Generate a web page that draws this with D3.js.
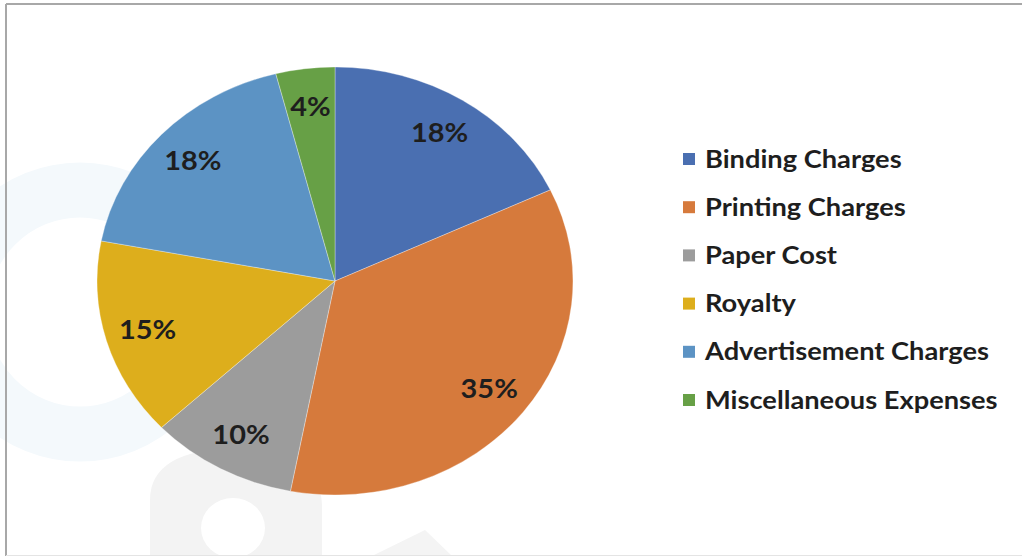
<!DOCTYPE html>
<html lang="en">
<head>
    <meta charset="UTF-8">
    <title>Pie Chart</title>
    <style>
        body{ margin:0; background:#fff; }
        svg{ display:block; }
        text{ font-family: Lato, "Open Sans", sans-serif; font-weight:bold; fill:#1e1e1e; }
    </style>
</head>
<body>
    <svg width="1022" height="556"></svg>
    <script src="https://d3js.org/d3.v7.min.js"></script>
    <script>
        var categories = ["Binding Charges", "Printing Charges", "Paper Cost", "Royalty", "Advertisement Charges", "Miscellaneous Expenses"];
        var values = [18, 35, 10, 15, 18, 4];
        var colors = ["#4a6fb1", "#d67a3c", "#9c9c9c", "#ddae1c", "#5c93c4", "#67a046"];

        var svg = d3.select("svg"),
            cx = 335, cy = 281,
            ry = 214, rx = 238,
            sx = rx / ry;   // the whole picture is stretched horizontally

        // faint watermark behind the chart
        var wm = svg.append("g").attr("class", "watermark");
        wm.append("ellipse").attr("cx", 80).attr("cy", 312).attr("rx", 120).attr("ry", 122)
            .attr("fill", "none").attr("stroke", "#f4f9fc").attr("stroke-width", 55);
        wm.append("path")
            .attr("d", "M150,556 L150,500 Q150,450 235,448 Q320,450 322,505 L322,556 Z")
            .attr("fill", "#f3f3f3");
        wm.append("ellipse").attr("cx", 233).attr("cy", 528).attr("rx", 32).attr("ry", 30)
            .attr("fill", "#fff");
        wm.append("path").attr("d", "M372,556 L425,530 L452,556 Z").attr("fill", "#f4f4f4");

        // frame
        svg.append("line").attr("x1", 6).attr("x2", 1022).attr("y1", 4).attr("y2", 4)
            .attr("stroke", "#a8a8a8").attr("stroke-width", 2);
        svg.append("line").attr("x1", 6).attr("x2", 6).attr("y1", 4).attr("y2", 556)
            .attr("stroke", "#a8a8a8").attr("stroke-width", 2);
        svg.append("line").attr("x1", 6).attr("x2", 1022).attr("y1", 555.5).attr("y2", 555.5)
            .attr("stroke", "#e4e4e4").attr("stroke-width", 1);

        var color = d3.scaleOrdinal().domain(categories).range(colors);

        var pie = d3.pie().sort(null).value(function(d){ return d.value; });
        var data = categories.map(function(c, i){ return {name: c, value: values[i]}; });
        var arcs = pie(data);

        var arc = d3.arc().innerRadius(0).outerRadius(ry);
        var labelArc = d3.arc().innerRadius(ry * 0.82).outerRadius(ry * 0.82);

        // pie is drawn as a circle then stretched horizontally
        var g = svg.append("g")
            .attr("transform", "translate(" + cx + "," + cy + ") scale(" + sx + ",1)");

        g.selectAll(".slice")
            .data(arcs)
            .enter().append("path")
            .attr("class", "slice")
            .attr("d", arc)
            .attr("fill", function(d){ return color(d.data.name); })
            .attr("stroke", "#ffffff")
            .attr("stroke-width", 0.5)
            .attr("stroke-opacity", 0.6);

        var total = d3.sum(values);
        svg.selectAll(".pct")
            .data(arcs)
            .enter().append("text")
            .attr("class", "pct")
            .attr("transform", function(d){
                var c = labelArc.centroid(d);
                return "translate(" + (cx + c[0] * sx) + "," + (cy + c[1]) + ") scale(" + sx + ",1)";
            })
            .attr("text-anchor", "middle")
            .attr("dy", "0.36em")
            .style("font-size", "26px")
            .text(function(d){ return Math.round(d.data.value / total * 100) + "%"; });

        // legend
        var legend = svg.selectAll(".legend")
            .data(categories)
            .enter().append("g")
            .attr("class", "legend")
            .attr("transform", function(d, i){ return "translate(683," + (159 + i * 48.2) + ")"; });

        legend.append("rect")
            .attr("x", 0)
            .attr("y", -6)
            .attr("width", 12)
            .attr("height", 12)
            .style("fill", color);

        legend.append("text")
            .attr("transform", "translate(22,0) scale(" + sx + ",1)")
            .attr("dy", "0.35em")
            .style("font-size", "24.5px")
            .text(function(d){ return d; });
    </script>
</body>
</html>
